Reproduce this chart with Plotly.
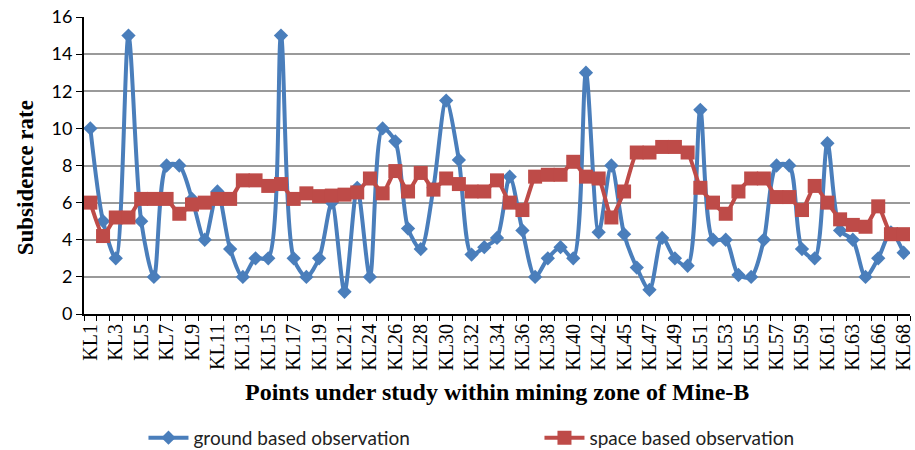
import plotly.graph_objects as go

# Observation points (every point along the profile); only every other one is labelled
points = [
    "KL1", "KL2", "KL3", "KL4", "KL5", "KL6", "KL7", "KL8", "KL9", "KL10",
    "KL11", "KL12", "KL13", "KL14", "KL15", "KL16", "KL17", "KL18", "KL19", "KL20",
    "KL21", "KL22", "KL24", "KL25", "KL26", "KL27", "KL28", "KL29", "KL30", "KL31",
    "KL32", "KL33", "KL34", "KL35", "KL36", "KL37", "KL38", "KL39", "KL40", "KL41",
    "KL42", "KL43", "KL45", "KL46", "KL47", "KL48", "KL49", "KL50", "KL51", "KL52",
    "KL53", "KL54", "KL55", "KL56", "KL57", "KL58", "KL59", "KL60", "KL61", "KL62",
    "KL63", "KL64", "KL66", "KL67", "KL68",
]

ground_based = [
    10, 5, 3, 15, 5, 2, 8, 8, 6.2, 4,
    6.6, 3.5, 2, 3, 3, 15, 3, 2, 3, 6,
    1.2, 6.8, 2, 10, 9.3, 4.6, 3.5, 6.8, 11.5, 8.3,
    3.2, 3.6, 4.1, 7.4, 4.5, 2, 3, 3.6, 3, 13,
    4.4, 8, 4.3, 2.5, 1.3, 4.1, 3, 2.6, 11, 4,
    4, 2.1, 2, 4, 8, 8, 3.5, 3, 9.2, 4.5,
    4, 2, 3, 4.4, 3.3,
]

space_based = [
    6, 4.2, 5.2, 5.2, 6.2, 6.2, 6.2, 5.4, 5.9, 6,
    6.2, 6.2, 7.2, 7.2, 6.9, 7, 6.2, 6.5, 6.35, 6.38,
    6.43, 6.55, 7.3, 6.5, 7.7, 6.6, 7.6, 6.7, 7.3, 7,
    6.6, 6.6, 7.2, 6, 5.6, 7.4, 7.5, 7.5, 8.2, 7.4,
    7.3, 5.2, 6.6, 8.7, 8.7, 9, 9, 8.7, 6.8, 6,
    5.4, 6.6, 7.3, 7.3, 6.3, 6.3, 5.6, 6.9, 6, 5.1,
    4.8, 4.7, 5.8, 4.3, 4.3,
]

tick_text = [p if i % 2 == 0 else "" for i, p in enumerate(points)]

BLUE = "#4A7EBB"
RED = "#BE4B48"

fig = go.Figure()
fig.add_trace(go.Scatter(
    x=points, y=ground_based, name="ground based observation",
    mode="lines+markers",
    line=dict(color=BLUE, width=4, shape="spline", smoothing=0.8),
    marker=dict(symbol="diamond", size=11, color=BLUE),
))
fig.add_trace(go.Scatter(
    x=points, y=space_based, name="space based observation",
    mode="lines+markers",
    line=dict(color=RED, width=4, shape="spline", smoothing=0.5),
    marker=dict(symbol="square", size=14, color=RED),
))

fig.update_layout(
    width=915, height=450,
    margin=dict(l=84, r=5, t=17, b=136, autoexpand=False),
    paper_bgcolor="white", plot_bgcolor="white",
    showlegend=True,
    legend=dict(
        orientation="h", x=0.072, xanchor="left", y=-0.417, yanchor="middle",
        font=dict(family="Lato", size=19, color="#222222"),
        entrywidth=341, itemwidth=40,
    ),
    xaxis=dict(
        type="category",
        tickmode="array", tickvals=points, ticktext=tick_text,
        tickson="boundaries", ticks="outside", ticklen=5, tickwidth=1.2, tickcolor="black",
        tickangle=-90,
        tickfont=dict(family="Liberation Serif", size=20, color="black"),
        showline=True, linecolor="black", linewidth=2,
        showgrid=False, zeroline=False,
        range=[-0.5, len(points) - 0.5],
    ),
    yaxis=dict(
        range=[0, 16], dtick=2, tick0=0,
        ticks="outside", ticklen=6, tickwidth=1.2, tickcolor="black",
        tickfont=dict(family="Lato", size=18, color="black"),
        showline=True, linecolor="black", linewidth=2,
        showgrid=True, gridcolor="#9A9A9A", gridwidth=1.5,
        zeroline=False,
    ),
    annotations=[
        dict(text="<b>Points under study within mining zone of Mine-B</b>",
             xref="paper", yref="paper", x=0.5, y=-0.262, xanchor="center", yanchor="middle",
             showarrow=False, font=dict(family="Liberation Serif", size=24, color="black")),
        dict(text="<b>Subsidence rate</b>",
             xref="paper", yref="paper", x=-0.0715, y=0.46, xanchor="center", yanchor="middle",
             textangle=-90, showarrow=False,
             font=dict(family="Liberation Serif", size=23, color="black")),
    ],
)

fig.write_html("out.html")
